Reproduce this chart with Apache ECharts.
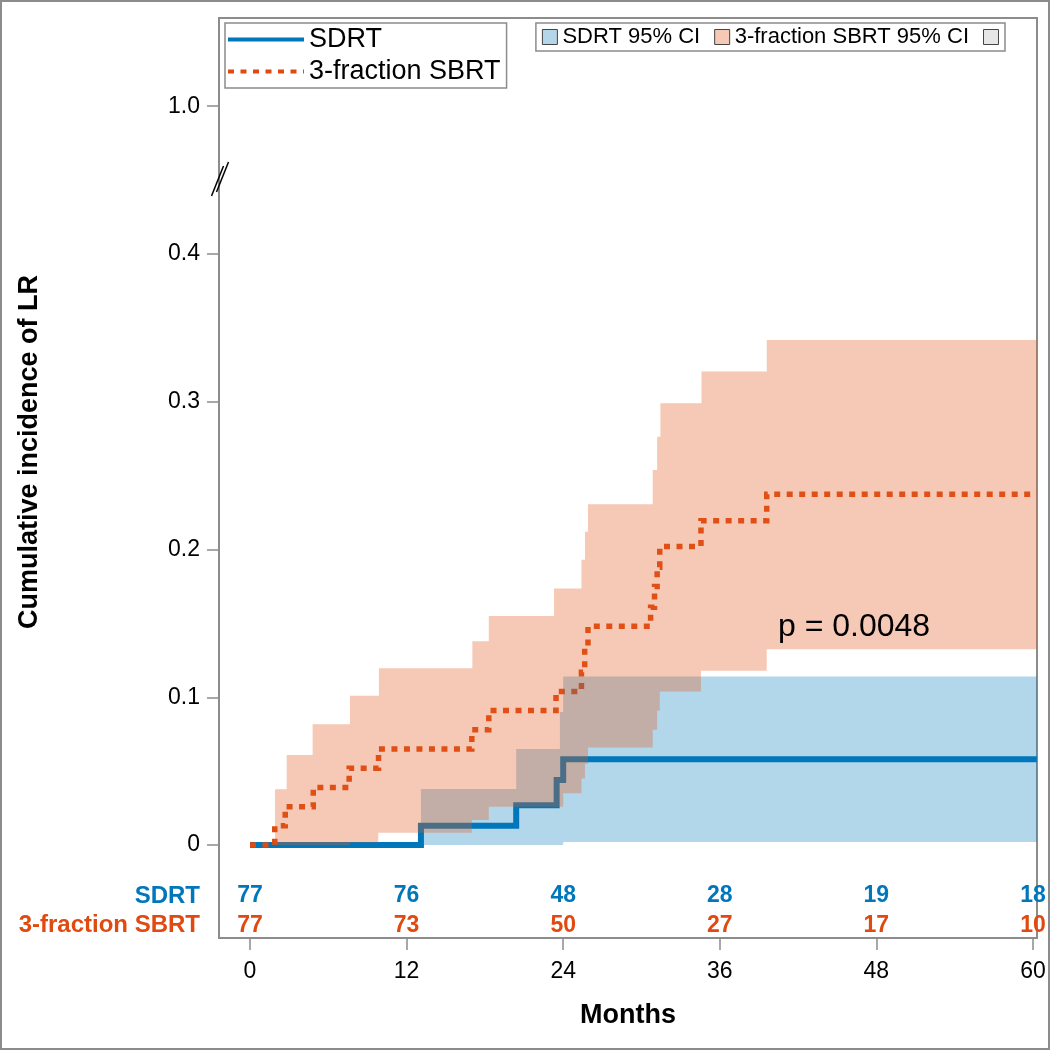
<!DOCTYPE html>
<html>
<head>
<meta charset="utf-8">
<script src="https://cdn.jsdelivr.net/npm/echarts@6/dist/echarts.min.js"></script>
<style>
html,body{margin:0;padding:0;background:#fff;}
#chart{width:1050px;height:1050px;}
</style>
</head>
<body>
<div id="chart"></div>
<script>
// ---------- data ----------
const END_TIME = 60.3;
const sdrtLine = [[0,0],[13.1,0.013],[20.4,0.027],[23.5,0.044],[24.0,0.058]];
const sdrtHi   = [[0,0],[13.1,0.038],[20.4,0.065],[23.75,0.090],[24.0,0.114]];
const sdrtLo   = [[0,0],[24.0,0.002]];
const sbrtLine = [[0,0],[1.9,0.013],[2.7,0.026],[4.85,0.039],[7.6,0.052],[9.85,0.065],[17.0,0.078],[18.3,0.091],[23.45,0.104],[25.4,0.117],[25.65,0.131],[25.9,0.148],[30.7,0.161],[31.0,0.175],[31.2,0.188],[31.4,0.202],[34.56,0.2195],[39.6,0.2374]];
const sbrtHi   = [[0,0],[1.92,0.0377],[2.81,0.061],[4.8,0.0817],[7.66,0.101],[9.88,0.1196],[17.04,0.138],[18.3,0.155],[23.3,0.1737],[25.4,0.193],[25.67,0.212],[25.9,0.2306],[30.86,0.2538],[31.2,0.2764],[31.45,0.299],[34.6,0.3204],[39.6,0.3418]];
const sbrtLo   = [[0,0],[7.66,0.0018],[9.83,0.0083],[17.0,0.0169],[18.3,0.026],[24.0,0.035],[25.4,0.045],[25.67,0.055],[25.9,0.066],[30.86,0.078],[31.2,0.091],[31.4,0.104],[34.56,0.118],[39.6,0.1325]];

const atRiskTimes = [0,12,24,36,48,60];
const sdrtAtRisk  = [77,76,48,28,19,18];
const sbrtAtRisk  = [77,73,50,27,17,10];

const xTickValues = [0,12,24,36,48,60];
const yTickValues = [0,0.1,0.2,0.3,0.4,0.5];
const yTickLabels = ['0','0.1','0.2','0.3','0.4','1.0'];

const groupNames = ['SDRT','3-fraction SBRT'];
const ciNames = ['SDRT 95% CI','3-fraction SBRT 95% CI','Overlap'];
const pText = 'p = 0.0048';

// ---------- styles ----------
const BLUE = '#0077bb';
const ORANGE = '#e0490f';
const ORANGE_BAND = '#e15d21';
const FONT = '"Liberation Sans", Arial, sans-serif';
const GRAY = '#8c8c8c';
const ROW_SDRT = -0.0345, ROW_SBRT = -0.0548;

function stepify(pts){
  const out = [];
  for (let i=0;i<pts.length;i++){
    out.push([pts[i][0], pts[i][1]]);
    const nextT = i+1<pts.length ? pts[i+1][0] : END_TIME;
    out.push([nextT, pts[i][1]]);
  }
  return out;
}
function bandRenderer(hi, lo, color, opacity){
  return function(params, api){
    const up = stepify(hi);
    const dn = stepify(lo).reverse();
    const pts = up.concat(dn).map(p => api.coord(p));
    return {type:'polygon', shape:{points:pts}, style:{fill:color, opacity:opacity}, silent:true};
  };
}

const chart = echarts.init(document.getElementById('chart'), null, {renderer:'canvas'});
const option = {
  animation:false,
  grid:{left:219, top:18, right:13, bottom:112, show:true, borderColor:GRAY, borderWidth:2, backgroundColor:'transparent'},
  xAxis:{type:'value', min:-2.375, max:60.31,
    axisLine:{show:false, onZero:false},
    axisTick:{show:true, inside:false, length:12, customValues:xTickValues, lineStyle:{color:GRAY, width:1.5}},
    axisLabel:{show:true, customValues:xTickValues, margin:22, fontSize:23, color:'#000', fontFamily:FONT},
    splitLine:{show:false},
    name:'Months', nameLocation:'middle', nameGap:64,
    nameTextStyle:{fontSize:27, fontWeight:'bold', color:'#000', fontFamily:FONT}
  },
  yAxis:{type:'value', min:-0.0629, max:0.5597,
    axisLine:{show:false, onZero:false},
    axisTick:{show:true, inside:false, length:12, customValues:yTickValues, lineStyle:{color:GRAY, width:1.5}},
    axisLabel:{show:true, customValues:yTickValues, margin:19, fontSize:23, color:'#000', fontFamily:FONT,
      formatter:function(v){ for (let i=0;i<yTickValues.length;i++){ if (Math.abs(v-yTickValues[i])<1e-9) return yTickLabels[i]; } return ''; }},
    splitLine:{show:false}
  },
  legend:[
    {data:groupNames, orient:'vertical', left:225, top:23, selectedMode:false,
     itemWidth:76, itemHeight:14, itemGap:5, padding:[3,6,3,1],
     borderColor:GRAY, borderWidth:1.5,
     itemStyle:{opacity:0},
     lineStyle:{width:4, opacity:1},
     textStyle:{fontSize:27, color:'#000', fontFamily:FONT}},
    {data:[
       {name:ciNames[0], icon:'rect', itemStyle:{color:'#b3d7e9', borderColor:'#444', borderWidth:1}},
       {name:ciNames[1], icon:'rect', itemStyle:{color:'#f5c9b5', borderColor:'#444', borderWidth:1}},
       {name:ciNames[2], icon:'rect', itemStyle:{color:'#e6e6e6', borderColor:'#444', borderWidth:1}}
     ],
     orient:'horizontal', right:45, top:23, selectedMode:false,
     itemWidth:15, itemHeight:15, itemGap:14, padding:[3,6,3,6],
     borderColor:GRAY, borderWidth:1.5,
     formatter:function(n){ return n===ciNames[2] ? '' : n; },
     textStyle:{fontSize:22, color:'#000', fontFamily:FONT}}
  ],
  series:[
    {name:groupNames[0], type:'line', data:stepify(sdrtLine), symbol:'none', showSymbol:false, z:2,
     lineStyle:{color:BLUE, width:6, cap:'butt', join:'miter'}, itemStyle:{color:BLUE}},
    {name:groupNames[1], type:'line', data:stepify(sbrtLine), symbol:'none', showSymbol:false, z:2,
     lineStyle:{color:ORANGE, width:5.5, type:[6,6.5], cap:'butt', join:'miter'}, itemStyle:{color:ORANGE}},
    {name:ciNames[0], type:'custom', data:[[0,0]], z:3, renderItem:bandRenderer(sdrtHi, sdrtLo, BLUE, 0.3), itemStyle:{color:'#b3d7e9'}},
    {name:ciNames[1], type:'custom', data:[[0,0]], z:4, renderItem:bandRenderer(sbrtHi, sbrtLo, ORANGE_BAND, 0.333), itemStyle:{color:'#f5c9b5'}},
    {name:ciNames[2], type:'custom', data:[], z:4, renderItem:function(){return null;}, itemStyle:{color:'#e6e6e6'}},
    {name:'atRiskSDRT', type:'scatter', symbolSize:1, itemStyle:{color:'rgba(0,0,0,0)', opacity:1}, z:5, silent:true,
     data:atRiskTimes.map((t,i)=>[t, ROW_SDRT, sdrtAtRisk[i]]),
     label:{show:true, position:'inside', formatter:p=>String(p.value[2]), color:BLUE, fontWeight:'bold', fontSize:23, fontFamily:FONT}},
    {name:'atRiskSBRT', type:'scatter', symbolSize:1, itemStyle:{color:'rgba(0,0,0,0)', opacity:1}, z:5, silent:true,
     data:atRiskTimes.map((t,i)=>[t, ROW_SBRT, sbrtAtRisk[i]]),
     label:{show:true, position:'inside', formatter:p=>String(p.value[2]), color:ORANGE, fontWeight:'bold', fontSize:23, fontFamily:FONT}}
  ],
  graphic:[
    {type:'rect', shape:{x:1,y:1,width:1048,height:1048}, style:{fill:'none', stroke:GRAY, lineWidth:2}, z:0, silent:true},
    {type:'text', x:30, y:452, rotation:Math.PI/2, style:{text:'Cumulative incidence of LR', fill:'#000', font:'bold 27px '+FONT, align:'center', verticalAlign:'middle'}},
    {type:'text', x:200, y:896, style:{text:groupNames[0], fill:BLUE, font:'bold 24px '+FONT, align:'right', verticalAlign:'middle'}},
    {type:'text', x:200, y:925, style:{text:groupNames[1], fill:ORANGE, font:'bold 24px '+FONT, align:'right', verticalAlign:'middle'}},
    {type:'text', x:778, y:627, style:{text:pText, fill:'#000', font:'32px '+FONT, align:'left', verticalAlign:'middle'}, z:10},
    {type:'line', shape:{x1:228.5,y1:162,x2:216.5,y2:192}, style:{stroke:'#000', lineWidth:1.5}, z:10},
    {type:'line', shape:{x1:223.5,y1:166,x2:211.5,y2:196}, style:{stroke:'#000', lineWidth:1.5}, z:10}
  ]
};
chart.setOption(option);
</script>
</body>
</html>
